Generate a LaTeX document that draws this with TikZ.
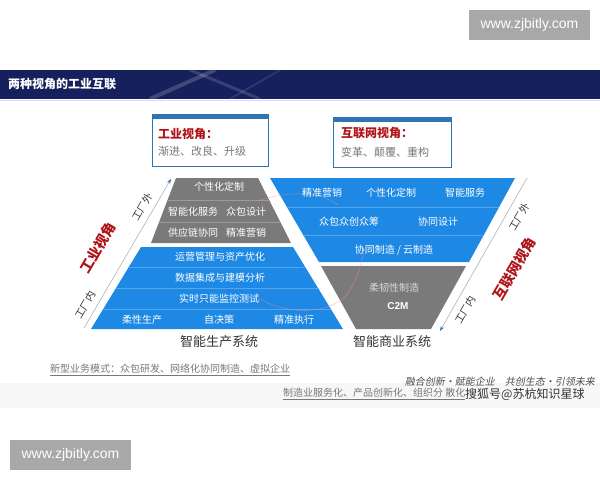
\documentclass[tikz,border=0pt]{standalone}
\usepackage{fontspec}
\setmainfont{Noto Sans CJK SC}
\newfontfamily\latinsans{Liberation Sans}
\newfontfamily\cjkslant[FakeSlant=0.2]{Noto Sans CJK SC}
\usetikzlibrary{arrows.meta}
\definecolor{pblue}{RGB}{30,136,229}
\definecolor{pgray}{RGB}{122,122,122}
\definecolor{navy}{RGB}{22,32,92}
\definecolor{boxblue}{RGB}{46,117,182}
\definecolor{dred}{RGB}{175,20,25}
\definecolor{wmgray}{RGB}{168,168,168}
\definecolor{txtgray}{RGB}{120,120,120}
\tikzset{
  cell/.style={text=white, font=\fontsize{10}{12}\selectfont, inner sep=0pt},
  sidelab/.style={rotate=60, font=\fontsize{10}{12}\selectfont, text=black!80, inner sep=0pt},
  redlab/.style={rotate=60, font=\fontsize{14}{16}\selectfont\bfseries, text=dred, inner sep=0pt},
  sysname/.style={font=\fontsize{13}{15}\selectfont, text=black!80, inner sep=0pt},
  wmbox/.style={fill=wmgray, text=white, font=\latinsans\fontsize{14}{16}\selectfont, minimum width=121pt, minimum height=30pt, inner sep=0pt},
  viewbox/.style={draw=boxblue, line width=0.8pt, fill=white},
  rowline/.style={line width=0.6pt},
  sidearrow/.style={draw=gray!60, line width=0.6pt, -{Stealth[length=5pt,width=3.5pt,color=boxblue]}},
  faintred/.style={draw=red!45, line width=0.4pt, opacity=0.6},
  foot/.style={font=\fontsize{10}{12}\selectfont, text=txtgray, inner sep=0pt, anchor=west},
}
\begin{document}
\begin{tikzpicture}[x=1pt,y=-1pt]
\useasboundingbox (0,0) rectangle (600,480);
\fill[white] (0,0) rectangle (600,480);

% watermarks
\node[wmbox] (wm1) at (529.5,25) {www.zjbitly.com};
\node[wmbox] (wm2) at (70.5,454.5) {www.zjbitly.com};

% header band
\fill[navy] (0,70) rectangle (600,99);
\begin{scope}
\clip (0,70) rectangle (600,99);
\draw[white, opacity=0.18, line width=4pt] (150,99) -- (215,70);
\draw[white, opacity=0.15, line width=3pt] (190,70) -- (260,99);
\draw[white, opacity=0.10, line width=2pt] (230,99) -- (280,70);
\end{scope}
\draw[blue!15, line width=1pt] (0,100) -- (600,100);
\node[anchor=west, text=white, font=\fontsize{12}{14}\selectfont\bfseries, inner sep=0pt] (hdr) at (8,84) {两种视角的工业互联};

% view boxes
\draw[viewbox] (152,114) rectangle (268,166);
\fill[boxblue] (152,114) rectangle (268,119);
\node[anchor=west, text=dred, font=\fontsize{12}{14}\selectfont\bfseries, inner sep=0pt] (lt) at (158,134) {工业视角：};
\node[anchor=west, text=txtgray, font=\fontsize{11}{13}\selectfont, inner sep=0pt] (ls) at (158,151) {渐进、改良、升级};

\draw[viewbox] (333,117) rectangle (451,167);
\fill[boxblue] (333,117) rectangle (451,122);
\node[anchor=west, text=dred, font=\fontsize{12}{14}\selectfont\bfseries, inner sep=0pt] (rt) at (341,133) {互联网视角：};
\node[anchor=west, text=txtgray, font=\fontsize{11}{13}\selectfont, inner sep=0pt] (rs) at (341,152) {变革、颠覆、重构};

% left pyramid
\fill[pgray] (176,178) -- (258,178) -- (291,243) -- (151,243) -- cycle;
\begin{scope}
\clip (176,178) -- (258,178) -- (291,243) -- (151,243) -- cycle;
\draw[rowline, white!25!pgray] (100,200) -- (320,200);
\draw[rowline, white!25!pgray] (100,222) -- (320,222);
\end{scope}
\fill[pblue] (141,247) -- (293,247) -- (343,329) -- (91,329) -- cycle;
\begin{scope}
\clip (141,247) -- (293,247) -- (343,329) -- (91,329) -- cycle;
\foreach \yy in {267,288,309} \draw[rowline, white!25!pblue] (80,\yy) -- (360,\yy);
\end{scope}

% right pyramid
\fill[pblue] (270,178) -- (515,178) -- (469,262) -- (319,262) -- cycle;
\begin{scope}
\clip (270,178) -- (515,178) -- (469,262) -- (319,262) -- cycle;
\draw[rowline, white!25!pblue] (260,207) -- (530,207);
\draw[rowline, white!25!pblue] (260,235) -- (530,235);
\end{scope}
\fill[pgray] (321,266) -- (466,266) -- (431,329) -- (356,329) -- cycle;

% faint red decorative curves
\draw[faintred] (258,201) .. controls (290,190) and (320,192) .. (337,204);
\fill[red!60, opacity=0.6] (337,204) circle (1pt);
\draw[faintred] (259,298) .. controls (290,318) and (335,312) .. (348,293) .. controls (358,278) and (362,262) .. (364,250);
\fill[red!60, opacity=0.6] (348,293) circle (1pt);
\fill[red!60, opacity=0.6] (259,298) circle (1pt);

% left pyramid texts
\node[cell] (g1) at (219,187) {个性化定制};
\node[cell] (g2a) at (193,212) {智能化服务};
\node[cell] (g2b) at (246,212) {众包设计};
\node[cell] (g3a) at (193,233) {供应链协同};
\node[cell] (g3b) at (246,233) {精准营销};
\node[cell] (b1) at (220,257) {运营管理与资产优化};
\node[cell] (b2) at (220,278) {数据集成与建模分析};
\node[cell] (b3) at (219,299) {实时只能监控测试};
\node[cell] (b4a) at (142,320) {柔性生产};
\node[cell] (b4b) at (219,320) {自决策};
\node[cell] (b4c) at (294,320) {精准执行};

% right pyramid texts
\node[cell] (r1a) at (322,193) {精准营销};
\node[cell] (r1b) at (391,193) {个性化定制};
\node[cell] (r1c) at (465,193) {智能服务};
\node[cell] (r2a) at (349,222) {众包众创众筹};
\node[cell] (r2b) at (438,222) {协同设计};
\node[cell] (r3) at (394,250) {协同制造 / 云制造};
\node[cell, text=white!85!black] (rg1) at (394,288) {柔韧性制造};
\node[cell, font=\latinsans\bfseries\fontsize{10}{12}\selectfont] (rg2) at (398,306) {C2M};

% system names
\node[sysname] (sysL) at (219,342) {智能生产系统};
\node[sysname] (sysR) at (392,342) {智能商业系统};

% side arrows
\coordinate (la0) at (84,328);
\coordinate (la1) at (171,179);
\draw[sidearrow] (la0) -- (la1);
\coordinate (ra0) at (527,178);
\coordinate (ra1) at (440,331);
\draw[sidearrow] (ra0) -- (ra1);

\node[sidelab] (lout) at (142,207) {工厂外};
\node[sidelab] (lin) at (85,305) {工厂内};
\node[redlab] (lred) at (98,248) {工业视角};
\node[sidelab] (rout) at (519,217) {工厂外};
\node[sidelab] (rin) at (465,310) {工厂内};
\node[redlab] (rred) at (514,269) {互联网视角};

% footer
\fill[gray!6] (0,383) rectangle (600,408);
\node[foot] (f1) at (50,370) {\underline{新型业务模式：众包研发、网络化协同制造、虚拟企业}};
\node[font=\cjkslant\fontsize{10}{12}\selectfont, text=black!70, inner sep=0pt, anchor=east] (f2) at (595,382) {融合创新·赋能企业\quad 共创生态·引领未来};
\node[foot] (f3) at (283,394) {\underline{制造业服务化、产品创新化、组织分 散化}};
\node[font=\fontsize{12}{14}\selectfont, text=black!80, inner sep=0pt, anchor=west] (f4) at (465,394) {搜狐号@苏杭知识星球};
\end{tikzpicture}
\end{document}
